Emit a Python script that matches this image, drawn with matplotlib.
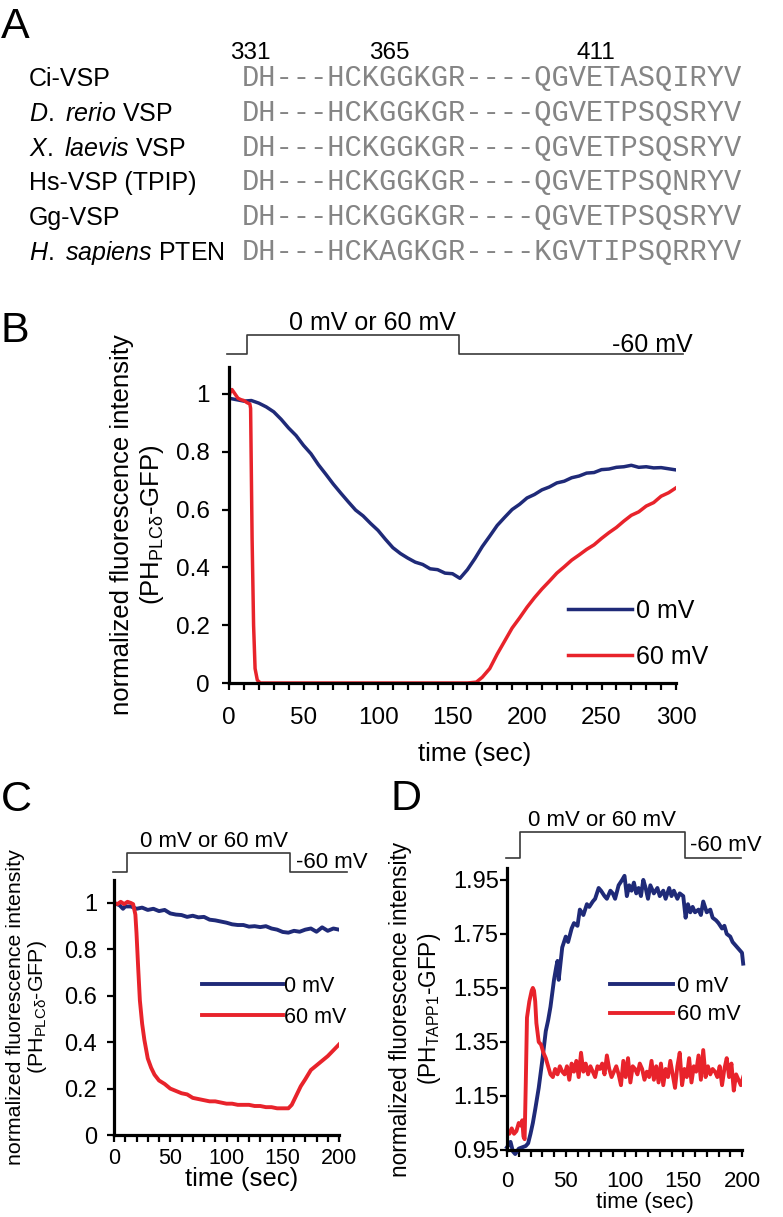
import matplotlib
matplotlib.use('Agg')
import matplotlib.pyplot as plt
import matplotlib.transforms as mtransforms
from matplotlib.ticker import MultipleLocator, FormatStrFormatter

plt.rcParams.update({
    'font.family': 'Liberation Sans',
    'mathtext.fontset': 'custom',
    'mathtext.rm': 'Liberation Sans',
    'mathtext.it': 'Liberation Sans:italic',
    'mathtext.bf': 'Liberation Sans:bold',
})

# ---------------- data ----------------
# panel A: alignment
names = ['Ci-VSP', r'$\mathit{D.\ rerio}$ VSP', r'$\mathit{X.\ laevis}$ VSP',
         'Hs-VSP (TPIP)', 'Gg-VSP', r'$\mathit{H.\ sapiens}$ PTEN']
seqs = ['DH---HCKGGKGR----QGVETASQIRYV',
        'DH---HCKGGKGR----QGVETPSQSRYV',
        'DH---HCKGGKGR----QGVETPSQSRYV',
        'DH---HCKGGKGR----QGVETPSQNRYV',
        'DH---HCKGGKGR----QGVETPSQSRYV',
        'DH---HCKAGKGR----KGVTIPSQRRYV']
res_numbers = ['331', '365', '411']
res_columns = [0, 8, 20]

# panel B
b_blue_t = [0, 5, 10, 15, 20, 25, 30, 35, 40, 45, 50, 55, 60, 65, 70, 75, 80, 85, 90, 95,
            100, 105, 110, 115, 120, 125, 130, 135, 140, 145, 150, 155, 160, 165, 170, 175,
            180, 185, 190, 195, 200, 205, 210, 215, 220, 225, 230, 235, 240, 245, 250, 255,
            260, 265, 270, 275, 280, 285, 290, 295, 300]
b_blue_v = [0.985, 0.98, 0.975, 0.977, 0.968, 0.955, 0.938, 0.912, 0.882, 0.856, 0.822, 0.793,
            0.755, 0.722, 0.688, 0.657, 0.627, 0.598, 0.578, 0.552, 0.528, 0.497, 0.468, 0.448,
            0.432, 0.418, 0.41, 0.395, 0.392, 0.38, 0.378, 0.362, 0.392, 0.43, 0.472, 0.508,
            0.545, 0.573, 0.6, 0.618, 0.64, 0.652, 0.668, 0.678, 0.692, 0.698, 0.71, 0.716,
            0.726, 0.728, 0.738, 0.74, 0.746, 0.748, 0.753, 0.746, 0.748, 0.744, 0.745, 0.741, 0.737]
b_red_t = [0, 1, 2, 4, 6, 8, 10, 12, 14, 14.5, 15.5, 16.5, 17.5, 19, 21, 40, 80, 120, 160, 166,
           170, 175, 180, 185, 190, 195, 200, 205, 210, 215, 220, 225, 230, 235, 240, 245, 250,
           255, 260, 265, 270, 275, 280, 285, 290, 295, 300]
b_red_v = [0.99, 1.01, 1.015, 1.0, 0.985, 0.98, 0.977, 0.97, 0.965, 0.95, 0.5, 0.2, 0.05, 0.01,
           0.0, 0.0, 0.0, 0.0, 0.0, 0.003, 0.02, 0.05, 0.1, 0.145, 0.19, 0.225, 0.262, 0.295,
           0.325, 0.352, 0.38, 0.402, 0.425, 0.443, 0.462, 0.478, 0.5, 0.52, 0.538, 0.56, 0.58,
           0.592, 0.612, 0.624, 0.646, 0.658, 0.675]
b_step = [-1.3, 12.1, 154.4, 304.7]

# panel C
c_blue_t = [0, 5, 8, 10, 15, 20, 25, 30, 35, 40, 45, 50, 55, 60, 65, 70, 75, 80, 85, 90, 95,
            100, 105, 110, 115, 120, 125, 130, 135, 140, 145, 150, 155, 160, 165, 170, 175,
            180, 185, 190, 195, 200]
c_blue_v = [1.0, 0.99, 0.975, 0.985, 0.985, 0.975, 0.98, 0.97, 0.975, 0.965, 0.97, 0.955, 0.95,
            0.948, 0.94, 0.945, 0.938, 0.94, 0.928, 0.925, 0.92, 0.915, 0.908, 0.905, 0.905,
            0.898, 0.9, 0.896, 0.9, 0.89, 0.885, 0.875, 0.872, 0.88, 0.876, 0.885, 0.89, 0.876,
            0.895, 0.88, 0.89, 0.885]
c_red_t = [0, 3, 6, 9, 12, 15, 17, 19, 20, 21.5, 23, 25, 27, 30, 33, 36, 40, 45, 50, 55, 60,
           65, 70, 75, 80, 85, 90, 95, 100, 105, 110, 115, 120, 125, 130, 135, 140, 145, 150,
           155, 158, 162, 166, 170, 175, 180, 185, 190, 195, 200]
c_red_v = [1.0, 0.995, 1.005, 0.995, 1.005, 1.0, 0.995, 0.95, 0.87, 0.72, 0.58, 0.48, 0.41,
           0.33, 0.29, 0.26, 0.235, 0.22, 0.2, 0.19, 0.18, 0.175, 0.16, 0.155, 0.15, 0.145,
           0.145, 0.14, 0.135, 0.135, 0.13, 0.13, 0.13, 0.125, 0.125, 0.12, 0.12, 0.115, 0.115,
           0.115, 0.13, 0.17, 0.21, 0.24, 0.28, 0.3, 0.32, 0.34, 0.365, 0.39]
c_step = [-0.9, 11.6, 156.4, 207]

# panel D
d_blue_t = [0, 3, 5, 7, 10, 13, 16, 18, 20, 22, 24, 27, 30, 33, 35, 37, 40, 42, 43, 44, 45,
            47, 50, 52, 55, 57, 60, 62, 65, 68, 70, 73, 75, 78, 80, 83, 85, 88, 90, 92, 95, 98,
            100, 102, 104, 106, 108, 110, 112, 114, 116, 118, 120, 122, 125, 128, 130, 133, 135,
            138, 140, 142, 145, 147, 150, 152, 154, 156, 158, 160, 163, 165, 167, 170, 173, 175,
            178, 180, 183, 185, 187, 190, 192, 194, 196, 198, 200, 201]
d_blue_v = [0.96, 0.98, 0.945, 0.935, 0.955, 0.96, 0.965, 0.975, 1.01, 1.05, 1.1, 1.18, 1.28,
            1.39, 1.43, 1.48, 1.58, 1.63, 1.65, 1.58, 1.62, 1.7, 1.74, 1.72, 1.77, 1.79, 1.78,
            1.84, 1.82, 1.86, 1.85, 1.87, 1.88, 1.92, 1.91, 1.89, 1.88, 1.91, 1.9, 1.88, 1.93,
            1.95, 1.965, 1.89, 1.93, 1.91, 1.94, 1.9, 1.92, 1.89, 1.95, 1.92, 1.88, 1.93, 1.9,
            1.92, 1.89, 1.91, 1.88, 1.92, 1.89, 1.91, 1.88, 1.9, 1.89, 1.81, 1.86, 1.83, 1.85,
            1.83, 1.84, 1.82, 1.87, 1.83, 1.84, 1.81, 1.8, 1.79, 1.77, 1.78, 1.75, 1.74, 1.72,
            1.71, 1.7, 1.69, 1.68, 1.64]
d_red_t = [0, 2, 4, 6, 8, 10, 12, 13, 14, 15, 16, 17, 19, 21, 22, 23, 24, 25, 27, 29, 31, 33,
           35, 37, 39, 41, 43, 45, 47, 49, 51, 53, 55, 57, 59, 61, 63, 65, 67, 69, 71, 73, 75,
           77, 79, 81, 83, 85, 87, 89, 91, 93, 95, 97, 99, 101, 103, 105, 107, 109, 111, 113,
           115, 117, 119, 121, 123, 125, 127, 129, 131, 133, 135, 137, 139, 141, 143, 145, 147,
           149, 151, 153, 155, 157, 159, 161, 163, 165, 167, 169, 171, 173, 175, 177, 179, 181,
           183, 185, 187, 189, 191, 193, 195, 197, 199, 201]
d_red_v = [1.02, 1.01, 1.03, 1.01, 1.02, 1.05, 1.04, 1.06, 1.0, 0.99, 1.2, 1.44, 1.5, 1.54,
           1.55, 1.54, 1.5, 1.42, 1.35, 1.34, 1.31, 1.29, 1.26, 1.23, 1.22, 1.25, 1.23, 1.26,
           1.24, 1.23, 1.26, 1.21, 1.27, 1.24, 1.28, 1.22, 1.31, 1.24, 1.27, 1.23, 1.26, 1.24,
           1.22, 1.26, 1.25, 1.27, 1.23, 1.3, 1.25, 1.22, 1.24, 1.26, 1.23, 1.19, 1.28, 1.22,
           1.29, 1.2, 1.26, 1.25, 1.23, 1.27, 1.25, 1.21, 1.24, 1.22, 1.28, 1.21, 1.26, 1.2,
           1.27, 1.19, 1.25, 1.22, 1.28, 1.23, 1.18, 1.26, 1.31, 1.19, 1.25, 1.22, 1.29, 1.2,
           1.26, 1.24, 1.3, 1.21, 1.32, 1.22, 1.26, 1.23, 1.25, 1.24, 1.22, 1.26, 1.19, 1.25,
           1.29, 1.22, 1.27, 1.17, 1.23, 1.21, 1.19, 1.22]
d_step = [-0.85, 11.1, 151.5, 199.1]

labels = ['0 mV', '60 mV']
BLUE = '#1f2a78'
RED = '#e8232b'
GREY = '#3a3a3a'

W, H = 783, 1217


def rect(left, top, right, bottom):
    return [left / W, 1 - bottom / H, (right - left) / W, (bottom - top) / H]


fig = plt.figure(figsize=(W / 100, H / 100), dpi=100)

# panel letters
fig.text(1 / W, 1 - 38 / H, 'A', fontsize=31, va='baseline')
fig.text(1 / W, 1 - 342 / H, 'B', fontsize=31, va='baseline')
fig.text(1 / W, 1 - 811 / H, 'C', fontsize=31, va='baseline')
fig.text(391 / W, 1 - 810 / H, 'D', fontsize=31, va='baseline')

# ---------------- panel A ----------------
seq_x0 = 242
char_w = 17.28
row_y0, row_dy = 86, 34.8
for i, (nm, sq) in enumerate(zip(names, seqs)):
    yb = 1 - (row_y0 + i * row_dy) / H
    fig.text(29 / W, yb, nm, fontsize=18, va='baseline')
    fig.text(seq_x0 / W, yb, sq, fontsize=char_w / 0.6 * 0.72, family='Liberation Mono',
             color='#858585', va='baseline')
for num, col in zip(res_numbers, res_columns):
    fig.text((seq_x0 + (col + 0.5) * char_w) / W, 1 - 59 / H, num, fontsize=17.5,
             ha='center', va='baseline')


def style_axes(ax, xmax, ylo, yhi, yticks, xsize, ysize, xpad, ypad):
    for s in ['top', 'right']:
        ax.spines[s].set_visible(False)
    for s in ['left', 'bottom']:
        ax.spines[s].set_linewidth(2.3)
    ax.set_xlim(0, xmax)
    ax.set_ylim(ylo, yhi)
    ax.xaxis.set_major_locator(MultipleLocator(50))
    ax.xaxis.set_minor_locator(MultipleLocator(10))
    ax.set_yticks(yticks)
    ax.yaxis.set_major_formatter(FormatStrFormatter('%g'))
    ax.tick_params(which='both', direction='out', length=5, width=1.6)
    ax.tick_params(axis='x', labelsize=xsize, pad=xpad)
    ax.tick_params(axis='y', labelsize=ysize, pad=ypad)


def protocol(ax, step, lo, hi, text_top, top_x, top_y, text_low, low_x, low_y, fs):
    tr = mtransforms.blended_transform_factory(ax.transData, ax.transAxes)
    xs = [step[0], step[1], step[1], step[2], step[2], step[3]]
    ys = [lo, lo, hi, hi, lo, lo]
    ax.plot(xs, ys, color=GREY, lw=1.2, transform=tr, clip_on=False)
    ax.text(top_x, top_y, text_top, transform=tr, ha='center', va='baseline', fontsize=fs)
    ax.text(low_x, low_y, text_low, transform=tr, ha='right', va='baseline', fontsize=fs)


# ---------------- panel B ----------------
axb = fig.add_axes(rect(229, 367, 676, 683))
lb1, = axb.plot(b_blue_t, b_blue_v, color=BLUE, lw=2.5)
lb2, = axb.plot(b_red_t, b_red_v, color=RED, lw=2.5)
style_axes(axb, 300, 0, 1.093, [0, 0.2, 0.4, 0.6, 0.8, 1], 17.5, 17.5, 12, 9)
protocol(axb, b_step, 1.041, 1.101, '0 mV or 60 mV', 96, 1.117, '-60 mV', 311, 1.047, 18)
axb.set_ylabel('normalized fluorescence intensity\n(PH$_{\\mathrm{PLC\\delta}}$-GFP)',
               fontsize=18.5, linespacing=1.2)
axb.yaxis.set_label_coords(-0.141, 0.5)
axb.set_xlabel('time (sec)', fontsize=18.5)
axb.xaxis.set_label_coords(0.55, -0.186)
axb.legend([lb1, lb2], labels, loc='upper left', bbox_to_anchor=(0.758, 0.266),
           frameon=False, borderpad=0, borderaxespad=0, handlelength=2.56,
           handletextpad=0.18, labelspacing=0.87, fontsize=18)

# ---------------- panel C ----------------
axc = fig.add_axes(rect(114, 880, 339, 1135))
lc1, = axc.plot(c_blue_t, c_blue_v, color=BLUE, lw=2.8)
lc2, = axc.plot(c_red_t, c_red_v, color=RED, lw=2.8)
style_axes(axc, 200, 0, 1.099, [0, 0.2, 0.4, 0.6, 0.8, 1], 15.5, 17, 4, 7)
protocol(axc, c_step, 1.031, 1.106, '0 mV or 60 mV', 89, 1.129, '-60 mV', 225, 1.047, 16)
axc.set_ylabel('normalized fluorescence intensity\n(PH$_{\\mathrm{PLC\\delta}}$-GFP)',
               fontsize=15.4, linespacing=1.05)
axc.yaxis.set_label_coords(-0.29, 0.5)
axc.set_xlabel('time (sec)', fontsize=18.5)
axc.xaxis.set_label_coords(0.569, -0.125)
axc.legend([lc1, lc2], labels, loc='upper left', bbox_to_anchor=(0.391, 0.625),
           frameon=False, borderpad=0, borderaxespad=0, handlelength=3.77,
           handletextpad=0.02, labelspacing=0.47, fontsize=15.5)

# ---------------- panel D ----------------
axd = fig.add_axes(rect(507, 868, 742, 1150))
ld1, = axd.plot(d_blue_t, d_blue_v, color=BLUE, lw=2.8, clip_on=False)
ld2, = axd.plot(d_red_t, d_red_v, color=RED, lw=2.8)
style_axes(axd, 200, 0.95, 1.994, [0.95, 1.15, 1.35, 1.55, 1.75, 1.95], 16, 17, 10, 1)
protocol(axd, d_step, 1.035, 1.128, '0 mV or 60 mV', 81, 1.149, '-60 mV', 217, 1.060, 16)
axd.set_ylabel('normalized fluorescence intensity\n(PH$_{\\mathrm{TAPP1}}$-GFP)',
               fontsize=16.3, linespacing=1.2)
axd.yaxis.set_label_coords(-0.272, 0.5)
axd.set_xlabel('time (sec)', fontsize=16)
axd.xaxis.set_label_coords(0.587, -0.149)
axd.legend([ld1, ld2], labels, loc='upper left', bbox_to_anchor=(0.438, 0.617),
           frameon=False, borderpad=0, borderaxespad=0, handlelength=2.86,
           handletextpad=0.18, labelspacing=0.34, fontsize=15.8)

fig.savefig('out.png', dpi=100)
